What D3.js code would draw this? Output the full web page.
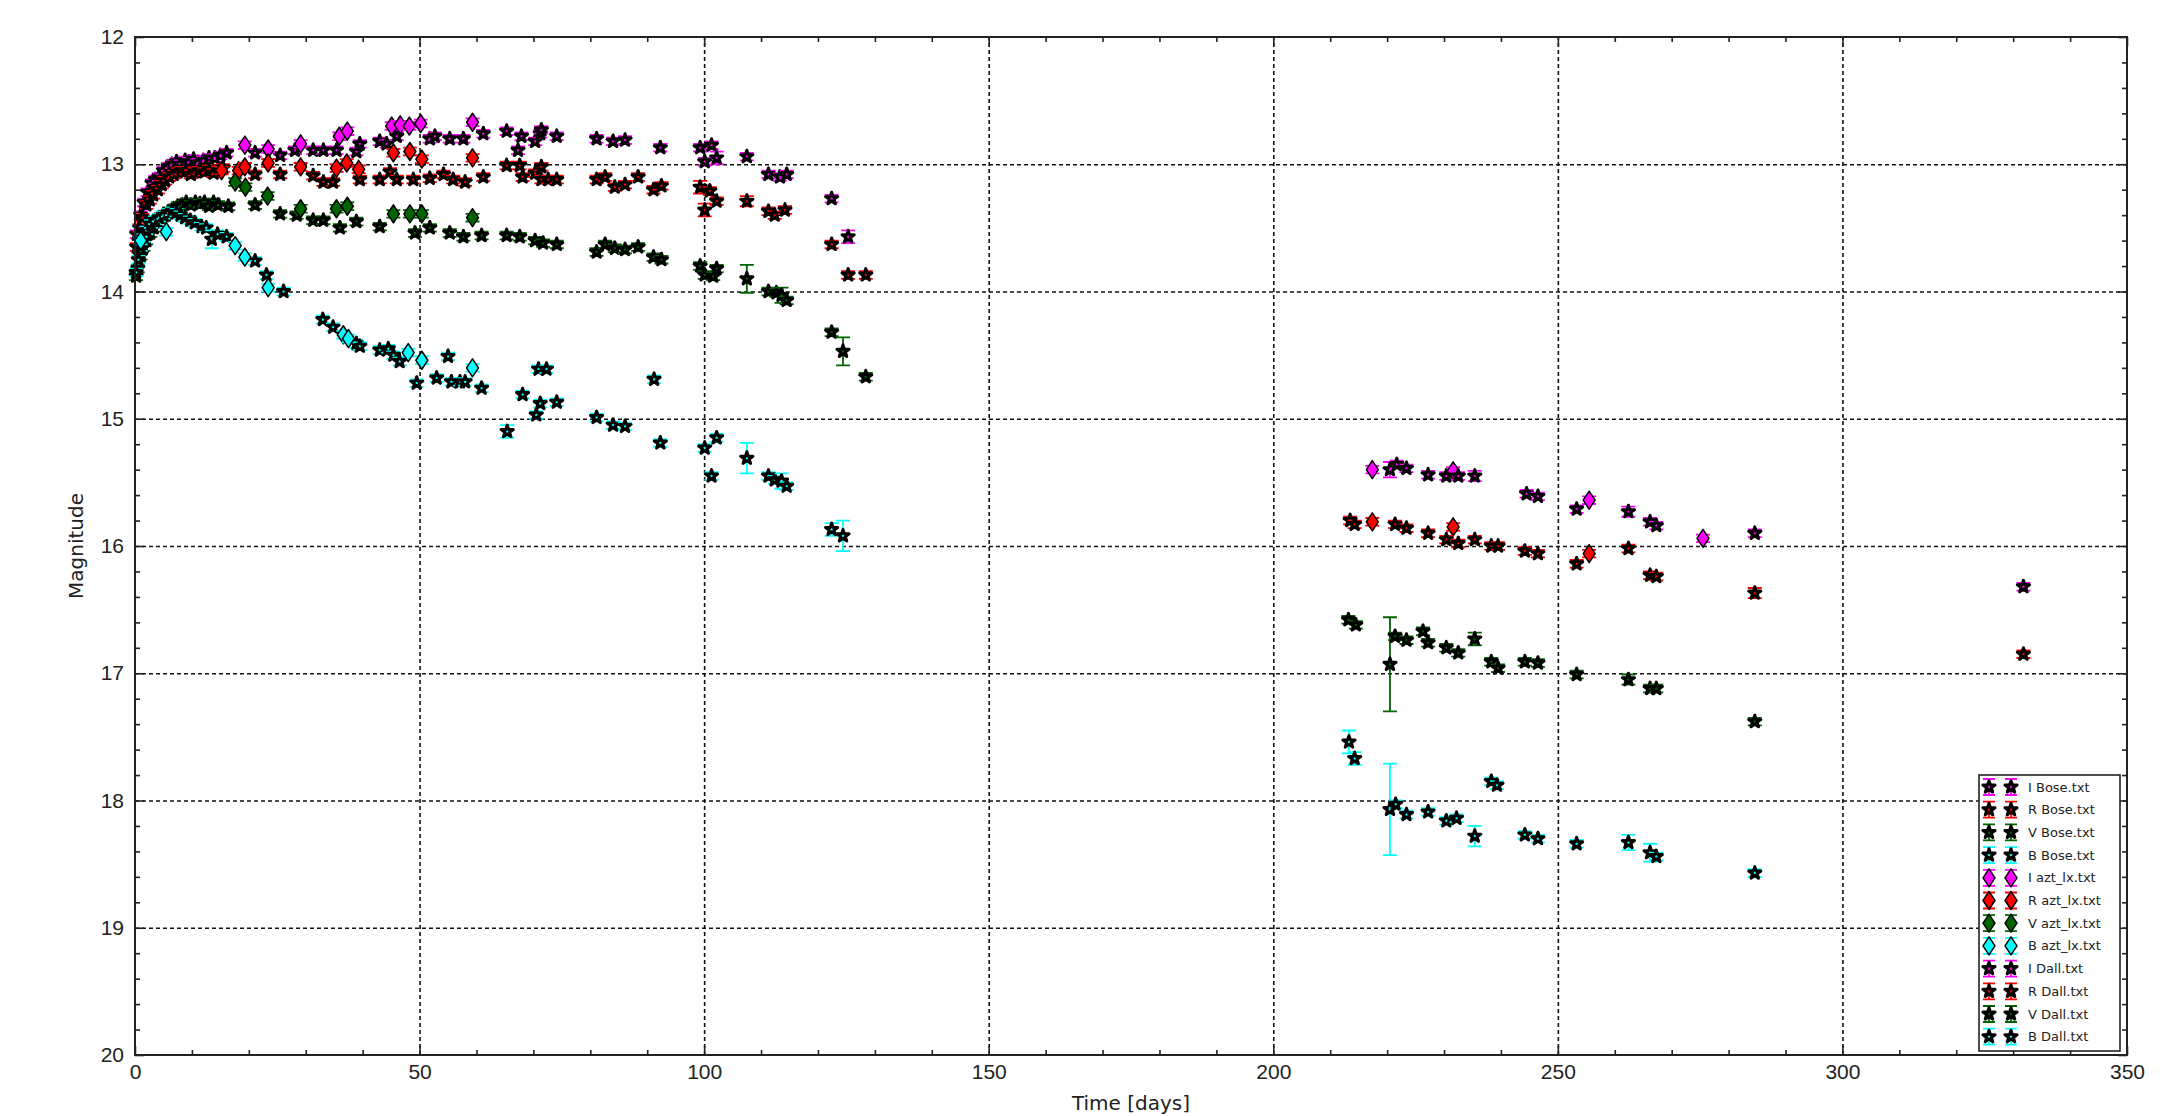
<!DOCTYPE html>
<html>
<head>
<meta charset="utf-8">
<script src="https://cdn.jsdelivr.net/npm/d3@7/dist/d3.min.js"></script>
<style>
  body { margin: 0; background: #fff; }
  svg { display: block; font-family: "DejaVu Sans", sans-serif; }
  .grid line { stroke: #111; stroke-width: 1.6; stroke-dasharray: 4,3; }
  .grid path { display: none; }
  .ax path { display: none; }
  .ax line { stroke: #222; stroke-width: 1.6; }
  .ax text { font-size: 21px; fill: #222; }
</style>
</head>
<body>
<svg class="lc" width="2171" height="1116"></svg>
<script>
// light curve, [day, mag, err]
var iBose = [[0.3,13.55],[1,13.4],[1.6,13.3],[2.2,13.22],[3,13.15],[3.6,13.12],[4.2,13.1],[5,13.05],[5.8,13.02],[6.5,13.0],[7.3,12.98],[8,13.0],[8.8,12.97],[9.5,12.98],[10.3,12.96],[11,12.99],[12,12.97],[13,12.95],[14,12.95],[15,12.93],[16.1,12.91],[21.1,12.91],[25.5,12.93],[28.1,12.89],[31.3,12.89],[33.1,12.89],[35.4,12.89],[38.9,12.9],[39.5,12.84],[43,12.82],[44.2,12.84],[46,12.78],[51.8,12.8],[52.7,12.78],[55.3,12.8],[57.7,12.8],[61.2,12.76]];
var rBose = [[0.3,13.65],[0.8,13.5],[1.3,13.42],[2,13.32],[2.6,13.28],[3.2,13.24],[4,13.2],[4.7,13.16],[5.3,13.13],[6,13.1],[6.8,13.08],[7.5,13.06],[8.2,13.05],[9,13.05],[9.8,13.08],[10.5,13.06],[11.3,13.05],[12.2,13.06],[13,13.04],[13.8,13.07],[14.6,13.05],[15.5,13.03],[21.1,13.08],[25.5,13.08],[31.3,13.09],[33.1,13.14],[34.8,13.14],[39.5,13.12],[43,13.12],[44.8,13.06],[46,13.12],[48.9,13.12],[51.8,13.11],[54.2,13.08],[55.9,13.12],[58,13.14],[61.2,13.1]];
var vBose = [[0.2,13.88],[0.5,13.82],[1,13.72],[1.5,13.65],[2,13.6],[2.7,13.54],[3.3,13.5],[4,13.46],[4.7,13.42],[5.4,13.4],[6,13.37],[6.8,13.35],[7.5,13.33],[8.3,13.32],[9,13.3],[9.8,13.32],[10.6,13.3],[11.4,13.31],[12.2,13.3],[13,13.33],[13.8,13.3],[14.6,13.32],[16.4,13.33],[21.1,13.32],[25.5,13.39],[28.4,13.4],[31.3,13.44],[33.1,13.44],[36,13.5],[38.9,13.45],[43,13.49],[49.2,13.54],[51.8,13.5],[55.3,13.54],[57.7,13.57],[60.9,13.56]];
var bBose = [[0.2,13.85],[0.6,13.75],[1,13.65],[1.5,13.58],[2,13.52],[2.8,13.47],[3.5,13.44],[4.2,13.42],[5,13.4],[5.8,13.38],[6.5,13.37],[7.3,13.38],[8,13.4],[8.8,13.42],[9.7,13.44],[10.5,13.46],[11.7,13.49],[12.5,13.5],[13.5,13.59,0.07],[14.5,13.55],[16.1,13.57],[21.1,13.76],[23.1,13.87],[26.1,14.0],[33,14.22],[34.8,14.28],[38.9,14.41],[39.5,14.43],[43,14.46],[44.5,14.45],[45.4,14.5],[46.5,14.55],[49.5,14.72],[53,14.68],[55,14.51],[55.6,14.71],[57.1,14.71],[58,14.71],[60.9,14.76]];

var iAzt = [[19.3,12.85],[23.4,12.88],[29.1,12.84],[35.9,12.78],[37.3,12.74],[45.1,12.7],[46.6,12.69],[48.2,12.7],[50.2,12.68],[59.3,12.67],[217.4,15.4],[231.6,15.41],[255.5,15.64],[275.5,15.94]];
var rAzt = [[15.2,13.05],[18.2,13.05],[19.3,13.02],[23.4,12.99],[29.1,13.02],[35.4,13.03],[37.2,12.99],[39.3,13.04],[45.4,12.91],[48.3,12.9],[50.4,12.96],[59.3,12.95],[217.4,15.81],[231.6,15.85],[255.5,16.06]];
var vAzt = [[17.6,13.14],[19.4,13.18],[23.3,13.25],[29.1,13.35],[35.4,13.35],[37.3,13.33],[45.4,13.39],[48.3,13.39],[50.4,13.39],[59.3,13.42]];
var bAzt = [[1,13.6],[5.5,13.53],[17.6,13.64],[19.3,13.73],[23.4,13.97],[36.6,14.34],[37.5,14.37],[48,14.48],[50.4,14.54],[59.3,14.6]];

var iDall = [[65.3,12.74],[67.3,12.89],[67.9,12.78],[70.3,12.82],[71.2,12.76],[71.4,12.73],[74.1,12.78],[81.1,12.8],[84,12.82],[86.1,12.81],[92.3,12.87],[99.3,12.87],[101.3,12.85],[100.1,12.98],[102.2,12.95,0.05],[107.5,12.94],[111.3,13.08],[113.3,13.1],[114.5,13.08],[122.4,13.27],[125.3,13.57,0.05],[220.5,15.4,0.06],[221.7,15.36],[223.4,15.39],[227.2,15.44],[230.4,15.45],[232.5,15.45],[235.4,15.45,0.04],[244.5,15.59],[246.5,15.61],[253.3,15.71],[262.4,15.73,0.04],[266.2,15.81],[267.3,15.84],[284.6,15.9],[331.8,16.32]];
var rDall = [[65.3,13.01],[67.6,13.01],[68.1,13.1],[70.3,13.07],[71.4,13.02],[71.4,13.12],[72.6,13.12],[74.1,13.12],[81.1,13.12],[82.6,13.1],[84.3,13.18],[86.1,13.16],[88.4,13.1],[91.1,13.2],[92.5,13.17],[99.3,13.18,0.05],[101,13.21],[102.2,13.29],[100.1,13.36,0.05],[107.5,13.29,0.04],[111.3,13.37],[112.4,13.4],[114.2,13.36],[122.4,13.63],[125.3,13.87],[128.4,13.87],[213.5,15.8],[214.3,15.83],[221.4,15.83],[223.4,15.86],[227.2,15.9],[230.4,15.95],[232.5,15.98],[235.4,15.95],[238.3,16.0],[239.5,16.0],[244.2,16.04],[246.5,16.06],[253.3,16.14],[262.4,16.02],[266.2,16.23],[267.3,16.24],[284.6,16.37,0.04],[331.8,16.85]];
var vDall = [[65.3,13.56],[67.6,13.57],[70.3,13.6],[71.7,13.62],[74.1,13.63],[81.1,13.69],[82.6,13.63],[84.3,13.66],[86.1,13.67],[88.4,13.65],[91.1,13.73],[92.5,13.75],[99.3,13.8],[100.1,13.87],[101.6,13.88],[102.2,13.82],[107.5,13.9,0.11],[111.3,14.0],[112.7,14.01],[113.6,14.03,0.06],[114.5,14.07],[122.4,14.32],[124.4,14.47,0.11],[128.4,14.67],[213.2,16.58],[214.5,16.62],[220.5,16.93,0.37],[221.4,16.71],[223.4,16.74],[226.3,16.67],[227.2,16.76],[230.4,16.8],[232.5,16.84],[235.4,16.73,0.05],[238.3,16.91],[239.5,16.96],[244.2,16.91],[246.5,16.92],[253.3,17.01],[262.4,17.05,0.04],[266.2,17.12],[267.3,17.12],[284.6,17.38]];
var bDall = [[65.4,15.1,0.05],[68.1,14.81],[70.5,14.97],[71.2,14.88],[70.9,14.61],[72.3,14.61],[74.1,14.87],[81.1,14.99],[84,15.05],[86.1,15.06],[91.2,14.69],[92.3,15.19],[100.1,15.23],[102.2,15.15],[101.3,15.45],[107.5,15.31,0.12],[111.3,15.45],[112.4,15.48],[113.6,15.49,0.06],[114.5,15.53],[122.4,15.87,0.05],[124.4,15.92,0.12],[213.3,17.54,0.09],[214.3,17.67,0.05],[220.5,18.07,0.36],[221.5,18.03],[223.4,18.11],[227.2,18.09],[230.4,18.16],[232.2,18.14],[235.4,18.28,0.08],[238.3,17.85],[239.3,17.88],[244.2,18.27],[246.5,18.3],[253.3,18.34],[262.4,18.33,0.06],[266.2,18.41,0.07],[267.3,18.44],[284.6,18.57]];

var seriesNames = ["I Bose.txt","R Bose.txt","V Bose.txt","B Bose.txt","I azt_lx.txt","R azt_lx.txt","V azt_lx.txt","B azt_lx.txt","I Dall.txt","R Dall.txt","V Dall.txt","B Dall.txt"];
var seriesData = [iBose, rBose, vBose, bBose, iAzt, rAzt, vAzt, bAzt, iDall, rDall, vDall, bDall];
var bandColors = ["#ff00ff", "#ff0000", "#006400", "#00ffff"];

var xTicks = [0, 50, 100, 150, 200, 250, 300, 350];
var yTicks = [12, 13, 14, 15, 16, 17, 18, 19, 20];

var svg = d3.select(".lc"),
    margin = {top: 37, right: 44, bottom: 61, left: 135},
    width = +svg.attr("width") - margin.left - margin.right,
    height = +svg.attr("height") - margin.top - margin.bottom,
    g = svg.append("g").attr("transform", "translate(" + margin.left + "," + margin.top + ")");

var x = d3.scaleLinear().domain([0, 350]).range([0, width]);
var y = d3.scaleLinear().domain([12, 20]).range([0, height]);

var xMinor = d3.range(0, 351, 10).filter(function(d) { return d % 50 != 0; });
var yMinor = d3.range(12, 20.01, 0.2).filter(function(d) { return Math.abs(d - Math.round(d)) > 0.01; });

// grid
g.append("g").attr("class", "grid")
    .attr("transform", "translate(0," + height + ")")
    .call(d3.axisBottom(x).tickValues(xTicks.slice(1, -1)).tickSize(-height).tickFormat(""));
g.append("g").attr("class", "grid")
    .call(d3.axisLeft(y).tickValues(yTicks.slice(1, -1)).tickSize(-width).tickFormat(""));

// ticks, pointing inward on all sides
g.append("g").attr("class", "ax")
    .attr("transform", "translate(0," + height + ")")
    .call(d3.axisBottom(x).tickValues(xTicks).tickSize(-9).tickPadding(9));
g.append("g").attr("class", "ax")
    .attr("transform", "translate(0," + height + ")")
    .call(d3.axisBottom(x).tickValues(xMinor).tickSize(-5).tickFormat(""));
g.append("g").attr("class", "ax")
    .call(d3.axisTop(x).tickValues(xTicks).tickSize(-9).tickFormat(""));
g.append("g").attr("class", "ax")
    .call(d3.axisTop(x).tickValues(xMinor).tickSize(-5).tickFormat(""));
g.append("g").attr("class", "ax")
    .call(d3.axisLeft(y).tickValues(yTicks).tickSize(-9).tickPadding(11));
g.append("g").attr("class", "ax")
    .call(d3.axisLeft(y).tickValues(yMinor).tickSize(-5).tickFormat(""));
g.append("g").attr("class", "ax")
    .attr("transform", "translate(" + width + ",0)")
    .call(d3.axisRight(y).tickValues(yTicks).tickSize(-9).tickFormat(""));
g.append("g").attr("class", "ax")
    .attr("transform", "translate(" + width + ",0)")
    .call(d3.axisRight(y).tickValues(yMinor).tickSize(-5).tickFormat(""));

var star = d3.symbol().type(d3.symbolStar).size(46);
var diamond = "M0,-9L6,0L0,9L-6,0Z";
var cap = 7;

function drawSeries(sel, data, color, isDiamond) {
  var pts = sel.append("g").selectAll("g")
    .data(data)
    .enter().append("g")
      .attr("transform", function(d) { return "translate(" + x(d[0]) + "," + y(d[1]) + ")"; });

  pts.each(function(d) {
    var e = d[2] || (isDiamond ? 0.03 : 0.03);
    var h = y(d[1] + e) - y(d[1]);
    var p = d3.select(this);
    p.append("path")
      .attr("d", "M0," + (-h) + "V" + h + "M" + (-cap) + "," + (-h) + "H" + cap + "M" + (-cap) + "," + h + "H" + cap)
      .attr("stroke", color)
      .attr("stroke-width", 1.8)
      .attr("fill", "none");
  });

  pts.append("path")
    .attr("d", isDiamond ? diamond : star)
    .attr("fill", color)
    .attr("stroke", "#000")
    .attr("stroke-width", isDiamond ? 1.5 : 3)
    .attr("stroke-linejoin", "round");
}

var plot = g.append("g");
seriesData.forEach(function(data, i) {
  drawSeries(plot, data, bandColors[i % 4], i >= 4 && i < 8);
});

// frame
g.append("rect")
    .attr("width", width)
    .attr("height", height)
    .attr("fill", "none")
    .attr("stroke", "#222")
    .attr("stroke-width", 2);

// axis labels
svg.append("text")
    .attr("x", margin.left + width / 2)
    .attr("y", 1110)
    .attr("text-anchor", "middle")
    .attr("font-size", 20)
    .attr("fill", "#222")
    .text("Time [days]");

svg.append("text")
    .attr("transform", "translate(83," + (margin.top + height / 2) + ") rotate(-90)")
    .attr("text-anchor", "middle")
    .attr("font-size", 20)
    .attr("fill", "#222")
    .text("Magnitude");

// legend
var legend = svg.append("g").attr("transform", "translate(1979,775)");
legend.append("rect")
    .attr("width", 141)
    .attr("height", 276)
    .attr("fill", "#fff")
    .attr("stroke", "#222")
    .attr("stroke-width", 1.6);

var item = legend.selectAll("g.item")
    .data(seriesNames)
    .enter().append("g")
      .attr("class", "item")
      .attr("transform", function(d, i) { return "translate(0," + (12 + i * 22.7) + ")"; });

[10, 32].forEach(function(mx) {
  item.append("path")
      .attr("d", "M" + mx + ",-8V8M" + (mx - 6) + ",-8H" + (mx + 6) + "M" + (mx - 6) + ",8H" + (mx + 6))
      .attr("stroke", function(d, i) { return bandColors[i % 4]; })
      .attr("stroke-width", 1.8)
      .attr("fill", "none");
  item.append("path")
      .attr("transform", "translate(" + mx + ",0)")
      .attr("d", function(d, i) { return (i >= 4 && i < 8) ? diamond : star(); })
      .attr("fill", function(d, i) { return bandColors[i % 4]; })
      .attr("stroke", "#000")
      .attr("stroke-width", function(d, i) { return (i >= 4 && i < 8) ? 1.5 : 3; })
      .attr("stroke-linejoin", "round");
});

item.append("text")
    .attr("x", 49)
    .attr("dy", "0.35em")
    .attr("font-size", 13)
    .attr("fill", "#222")
    .text(function(d) { return d; });
</script>
</body>
</html>
